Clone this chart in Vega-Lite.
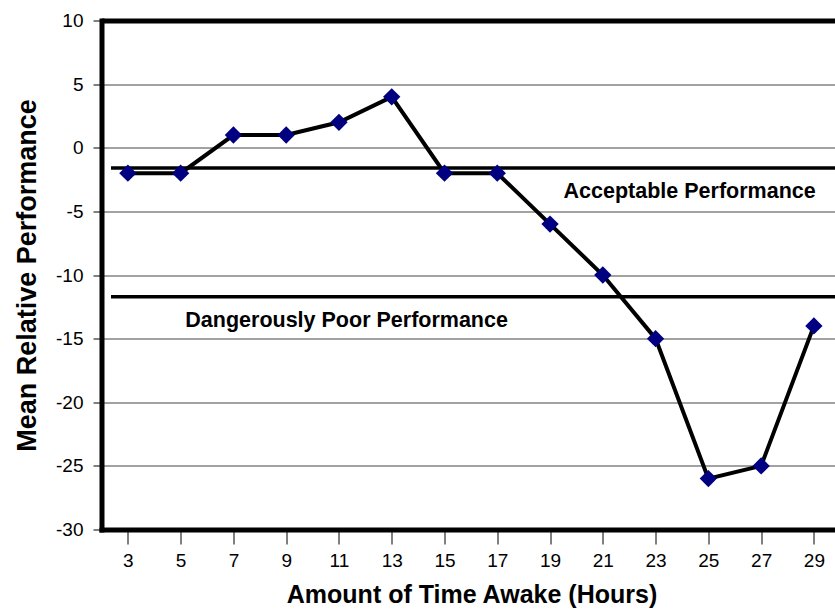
{
  "$schema": "https://vega.github.io/schema/vega-lite/v6.json",
  "width": 733.5,
  "height": 509,
  "autosize": {"type": "none"},
  "padding": {"left": 101.5, "top": 20.5, "right": 0, "bottom": 79.5},
  "background": "white",
  "config": {"view": {"stroke": null}, "font": "Liberation Sans"},
  "datasets": {
    "perf": [
      {"hours": 3, "performance": -2},
      {"hours": 5, "performance": -2},
      {"hours": 7, "performance": 1},
      {"hours": 9, "performance": 1},
      {"hours": 11, "performance": 2},
      {"hours": 13, "performance": 4},
      {"hours": 15, "performance": -2},
      {"hours": 17, "performance": -2},
      {"hours": 19, "performance": -6},
      {"hours": 21, "performance": -10},
      {"hours": 23, "performance": -15},
      {"hours": 25, "performance": -26},
      {"hours": 27, "performance": -25},
      {"hours": 29, "performance": -14}
    ],
    "refs": [
      {"hours": 2.36, "hours_end": 29.8, "performance": -1.6},
      {"hours": 2.36, "hours_end": 29.8, "performance": -11.7}
    ],
    "labels": [
      {"hours": 24.29, "performance": -3.48, "label": "Acceptable Performance"},
      {"hours": 11.29, "performance": -13.6, "label": "Dangerously Poor Performance"}
    ]
  },
  "encoding": {
    "x": {
      "field": "hours",
      "type": "quantitative",
      "scale": {"domain": [2, 29.8], "nice": false, "zero": false},
      "axis": {
        "values": [3, 5, 7, 9, 11, 13, 15, 17, 19, 21, 23, 25, 27, 29],
        "grid": false,
        "labelFontSize": 19,
        "labelColor": "black",
        "labelBaseline": "alphabetic",
        "labelPadding": 22,
        "labelFlush": false,
        "labelOverlap": false,
        "tickSize": 14.5,
        "tickColor": "black",
        "tickWidth": 1,
        "domainColor": "black",
        "domainWidth": 5,
        "domainCap": "square",
        "title": "Amount of Time Awake (Hours)",
        "titleFontSize": 25,
        "titleFontWeight": "bold",
        "titleColor": "black",
        "titleX": 370,
        "titleY": 73,
        "titleBaseline": "alphabetic",
        "titleAlign": "center"
      }
    },
    "y": {
      "field": "performance",
      "type": "quantitative",
      "scale": {"domain": [-30, 10], "nice": false, "zero": false},
      "axis": {
        "values": [-30, -25, -20, -15, -10, -5, 0, 5, 10],
        "labelExpr": "datum.value + ''",
        "grid": true,
        "gridColor": {"condition": {"test": "datum.value === 10", "value": "black"}, "value": "#444444"},
        "gridWidth": {"condition": {"test": "datum.value === 10", "value": 5}, "value": 1},
        "gridOpacity": 1,
        "labelFontSize": 19,
        "labelColor": "black",
        "labelPadding": 10,
        "labelBaseline": "middle",
        "labelFlush": false,
        "labelOverlap": false,
        "tickSize": 8.5,
        "tickColor": "black",
        "tickWidth": 1,
        "domainColor": "black",
        "domainWidth": 5,
        "domainCap": "square",
        "title": "Mean Relative Performance",
        "titleFontSize": 27,
        "titleFontWeight": "bold",
        "titleColor": "black",
        "titleAngle": 270,
        "titleX": -66.5,
        "titleY": 254.5,
        "titleBaseline": "alphabetic",
        "titleAlign": "center"
      }
    }
  },
  "layer": [
    {
      "data": {"name": "refs"},
      "mark": {"type": "rule", "color": "black", "strokeWidth": 3.5},
      "encoding": {"x2": {"field": "hours_end"}}
    },
    {
      "data": {"name": "perf"},
      "mark": {"type": "line", "color": "black", "strokeWidth": 4}
    },
    {
      "data": {"name": "perf"},
      "mark": {"type": "point", "shape": "diamond", "filled": true, "color": "#000080", "opacity": 1, "size": 300}
    },
    {
      "data": {"name": "labels"},
      "mark": {"type": "text", "fontSize": 21.5, "fontWeight": "bold", "color": "black", "align": "center", "baseline": "middle"},
      "encoding": {"text": {"field": "label", "type": "nominal"}}
    }
  ]
}
